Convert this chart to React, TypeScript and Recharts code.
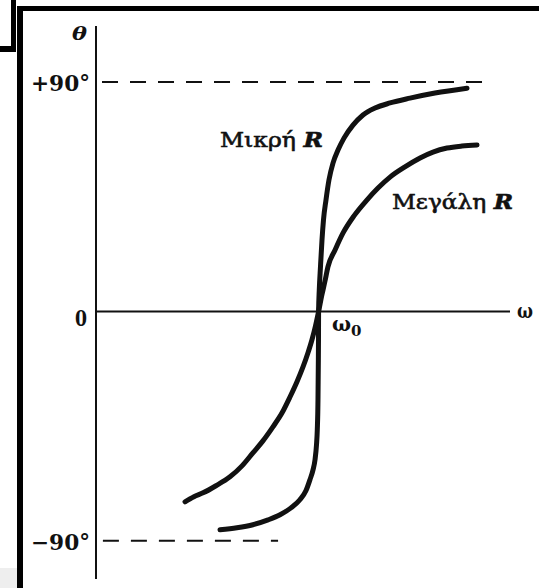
import React from 'react';
import { ComposedChart, Line, XAxis, YAxis, ReferenceLine, Customized } from 'recharts';

// Phase angle θ (degrees) versus angular frequency ω (ω0 = 1)
const smallROmega = [0.557, 0.633, 0.705, 0.773, 0.827, 0.876, 0.916, 0.943, 0.961, 0.975, 0.984, 0.9906, 0.9942, 0.9973, 0.9987, 0.9996, 1.0, 1.0031, 1.0085, 1.0153, 1.022, 1.0332, 1.0467, 1.0647, 1.0872, 1.1141, 1.1545, 1.1995, 1.2534, 1.3208, 1.4106, 1.5229, 1.6667];
const smallRTheta = [-85.7, -84.9, -83.7, -81.8, -79.8, -77.1, -73.9, -70.4, -66.1, -62.2, -58.2, -52.4, -46.5, -34.7, -21.8, -11.2, 0, 8.4, 17.5, 28.0, 35.9, 43.7, 51.6, 58.2, 63.3, 68.0, 73.1, 77.1, 79.8, 81.8, 83.7, 85.7, 87.6];

const largeROmega = [0.4, 0.44, 0.481, 0.539, 0.602, 0.656, 0.705, 0.75, 0.795, 0.836, 0.872, 0.903, 0.93, 0.952, 0.97, 0.986, 1.0, 1.015, 1.029, 1.042, 1.074, 1.11, 1.159, 1.217, 1.267, 1.321, 1.388, 1.456, 1.514, 1.577, 1.644, 1.712];
const largeRTheta = [-74.7, -72.7, -71.2, -68.4, -64.9, -60.6, -55.5, -50.8, -45.3, -39.8, -33.5, -27.6, -21.8, -16.3, -11.2, -5.7, 0, 6.5, 12.0, 17.5, 24.1, 30.8, 37.5, 43.7, 48.4, 52.7, 56.7, 60.2, 62.5, 64.1, 64.9, 65.3];

const yTicks = [90, 0, -90];
const yTickLabels = ['+90°', '0', '−90°'];

const upperAsymptote = { theta: 90, from: 0.027, to: 1.747 };
const lowerAsymptote = { theta: -90, from: 0.031, to: 0.818 };

const smallRLabel = 'Μικρή ';
const largeRLabel = 'Μεγάλη ';
const rSymbol = 'R';
const thetaLabel = 'θ';
const omegaLabel = 'ω';
const omega0Label = 'ω';
const omega0Sub = '0';

const smallRData = smallROmega.map((w, i) => ({ w, t: smallRTheta[i] }));
const largeRData = largeROmega.map((w, i) => ({ w, t: largeRTheta[i] }));

const FONT = '"DejaVu Serif", "Liberation Serif", serif';

const renderTick = (props: any) => {
  const { y, payload } = props;
  const i = yTicks.indexOf(payload.value);
  const label = yTickLabels[i];
  const isZero = payload.value === 0;
  return (
    <text
      x={isZero ? 87 : 90}
      y={y + (isZero ? 15 : 9)}
      textAnchor="end"
      fontFamily={FONT}
      fontWeight="bold"
      fontSize={22}
      fill="#111"
      textLength={isZero ? 12 : 59}
      lengthAdjust="spacingAndGlyphs"
    >
      {label}
    </text>
  );
};

const Annotations = () => (
  <g fill="#111" fontFamily={FONT}>
    <text x={72} y={40} fontSize={19} fontWeight="bold" fontStyle="italic" textLength={15} lengthAdjust="spacingAndGlyphs">
      {thetaLabel}
    </text>
    <text x={220} y={147} fontSize={21} stroke="#111" strokeWidth={0.6} textLength={103} lengthAdjust="spacingAndGlyphs">
      {smallRLabel}
      <tspan fontWeight="bold" fontStyle="italic">{rSymbol}</tspan>
    </text>
    <text x={392} y={209} fontSize={21} stroke="#111" strokeWidth={0.6} textLength={121} lengthAdjust="spacingAndGlyphs">
      {largeRLabel}
      <tspan fontWeight="bold" fontStyle="italic">{rSymbol}</tspan>
    </text>
    <text x={517} y={318} fontSize={20} fontWeight="bold" textLength={16} lengthAdjust="spacingAndGlyphs">
      {omegaLabel}
    </text>
    <text x={332} y={331} fontSize={20} fontWeight="bold">
      {omega0Label}
      <tspan dy={5} fontSize={15}>{omega0Sub}</tspan>
    </text>
  </g>
);

const Frame = () => (
  <>
    <div style={{ position: 'absolute', left: 11, top: 0, width: 5, height: 52, background: '#000' }} />
    <div style={{ position: 'absolute', left: 0, top: 46, width: 16, height: 6, background: '#000' }} />
    <div style={{ position: 'absolute', left: 17, top: 6, width: 522, height: 5, background: '#000' }} />
    <div style={{ position: 'absolute', left: 17, top: 6, width: 6, height: 582, background: '#000' }} />
    <div style={{ position: 'absolute', left: 0, top: 568, width: 17, height: 20, background: '#eeeeee' }} />
  </>
);

export default function App() {
  return (
    <div style={{ position: 'absolute', left: 0, top: 0, width: 539, height: 588, background: '#fff', overflow: 'hidden' }}>
      <ComposedChart width={539} height={588} margin={{ top: 26, right: 29, bottom: 9, left: 36 }}>
        <XAxis type="number" dataKey="w" domain={[0, 1.86]} hide allowDataOverflow />
        <YAxis
          type="number"
          dataKey="t"
          domain={[-105, 112]}
          ticks={yTicks}
          width={60}
          tickLine={false}
          axisLine={{ stroke: '#111', strokeWidth: 2 }}
          tick={renderTick}
          allowDataOverflow
        />
        <ReferenceLine y={0} stroke="#111" strokeWidth={2} />
        <ReferenceLine
          segment={[{ x: upperAsymptote.from, y: upperAsymptote.theta }, { x: upperAsymptote.to, y: upperAsymptote.theta }]}
          stroke="#111"
          strokeWidth={2}
          strokeDasharray="16 12"
        />
        <ReferenceLine
          segment={[{ x: lowerAsymptote.from, y: lowerAsymptote.theta }, { x: lowerAsymptote.to, y: lowerAsymptote.theta }]}
          stroke="#111"
          strokeWidth={2}
          strokeDasharray="16 12"
        />
        <Line data={smallRData} dataKey="t" type="monotone" stroke="#111" strokeWidth={5} strokeLinecap="round" dot={false} isAnimationActive={false} />
        <Line data={largeRData} dataKey="t" type="monotone" stroke="#111" strokeWidth={5} strokeLinecap="round" dot={false} isAnimationActive={false} />
        <Customized component={Annotations} />
      </ComposedChart>
      <Frame />
    </div>
  );
}
